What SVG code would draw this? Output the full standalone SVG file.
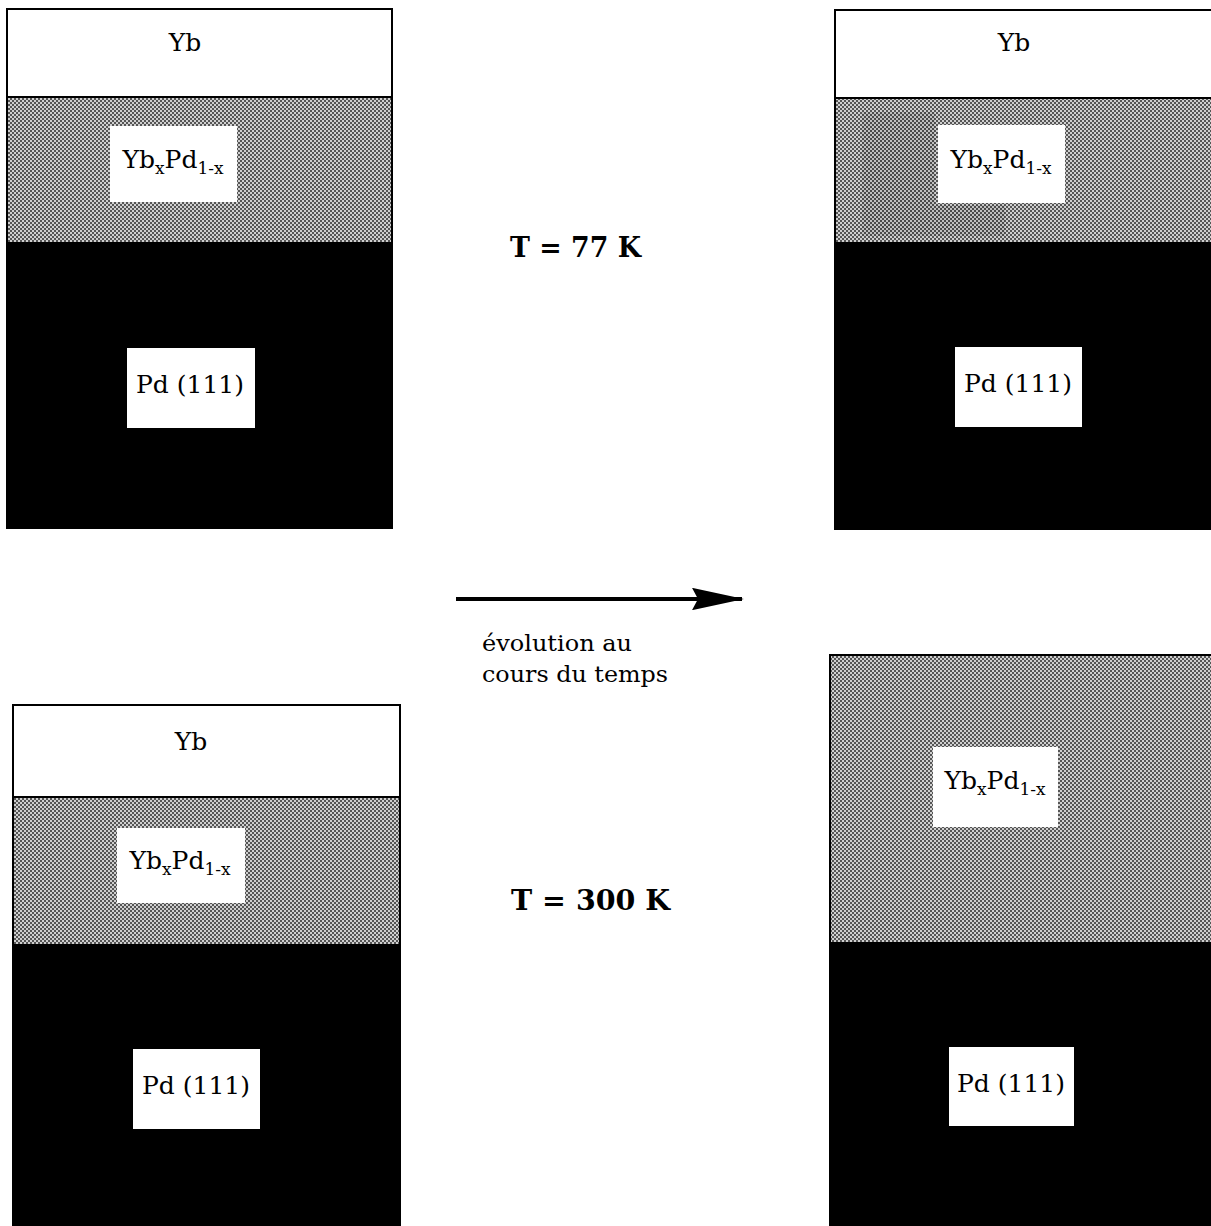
<svg xmlns="http://www.w3.org/2000/svg" width="1211" height="1226" viewBox="0 0 1211 1226">
<style>
.t{font-family:"DejaVu Serif","Liberation Serif",serif;font-size:25px;fill:#000;text-anchor:middle}
.s{font-size:17px}
.b{font-family:"DejaVu Serif","Liberation Serif",serif;font-size:27px;font-weight:bold;fill:#000}
.n{font-family:"DejaVu Serif","Liberation Serif",serif;font-size:22px;fill:#000}
.yb{fill:#fff;stroke:#000;stroke-width:2}
.gr{fill:url(#dither);stroke:#000;stroke-width:2}
.bk{fill:#000;stroke:#000;stroke-width:2}
.lb{fill:#fff}
</style>
<defs>
<pattern id="dither" width="4" height="4" patternUnits="userSpaceOnUse">
<rect width="4" height="4" fill="#cfcfcf"/>
<rect x="0" y="0" width="2" height="2" fill="#555"/>
<rect x="2" y="2" width="2" height="2" fill="#555"/>
</pattern>
<pattern id="dark" width="4" height="4" patternUnits="userSpaceOnUse">
<rect width="4" height="4" fill="#9a9a9a"/>
<rect x="0" y="0" width="2" height="2" fill="#303030"/>
<rect x="2" y="2" width="2" height="2" fill="#303030"/>
</pattern>
<marker id="ah" markerWidth="13" markerHeight="5.6" refX="12.5" refY="2.8" orient="auto" markerUnits="strokeWidth">
<path d="M0,0 L13,2.8 L0,5.6 L1.5,2.8 Z" fill="#000"/>
</marker>
</defs>
<rect width="1211" height="1226" fill="#fff"/>

<g id="panel-tl">
<rect class="bk" x="7" y="243" width="385" height="285"/>
<rect class="gr" x="7" y="97" width="385" height="146"/>
<rect class="yb" x="7" y="9" width="385" height="88"/>
<text class="t" x="185" y="51">Yb</text>
<rect class="lb" x="110" y="126" width="127" height="76"/>
<text class="t" x="173" y="168">Yb<tspan class="s" dy="6">x</tspan><tspan dy="-6">Pd</tspan><tspan class="s" dy="6">1-x</tspan></text>
<rect class="lb" x="127" y="348" width="128" height="80"/>
<text class="t" x="190" y="393">Pd (111)</text>
</g>

<g id="panel-tr">
<rect class="bk" x="835" y="243" width="378" height="286"/>
<rect class="gr" x="835" y="98" width="378" height="145"/>
<path d="M862,112 L935,112 L935,205 L1005,205 L1005,236 L862,236 Z" fill="url(#dark)" opacity="0.3"/>
<rect class="yb" x="835" y="10" width="378" height="88"/>
<text class="t" x="1014" y="51">Yb</text>
<rect class="lb" x="938" y="125" width="127" height="78"/>
<text class="t" x="1001" y="168">Yb<tspan class="s" dy="6">x</tspan><tspan dy="-6">Pd</tspan><tspan class="s" dy="6">1-x</tspan></text>
<rect class="lb" x="955" y="347" width="127" height="80"/>
<text class="t" x="1018" y="392">Pd (111)</text>
</g>

<g id="panel-bl">
<rect class="bk" x="13" y="945" width="387" height="283"/>
<rect class="gr" x="13" y="797" width="387" height="148"/>
<rect class="yb" x="13" y="705" width="387" height="92"/>
<text class="t" x="191" y="750">Yb</text>
<rect class="lb" x="117" y="828" width="128" height="75"/>
<text class="t" x="180" y="869">Yb<tspan class="s" dy="6">x</tspan><tspan dy="-6">Pd</tspan><tspan class="s" dy="6">1-x</tspan></text>
<rect class="lb" x="133" y="1049" width="127" height="80"/>
<text class="t" x="196" y="1094">Pd (111)</text>
</g>

<g id="panel-br">
<rect class="bk" x="830" y="943" width="383" height="285"/>
<rect class="gr" x="830" y="655" width="383" height="288"/>
<rect class="lb" x="933" y="747" width="125" height="80"/>
<text class="t" x="995" y="789">Yb<tspan class="s" dy="6">x</tspan><tspan dy="-6">Pd</tspan><tspan class="s" dy="6">1-x</tspan></text>
<rect class="lb" x="949" y="1047" width="125" height="79"/>
<text class="t" x="1011" y="1092">Pd (111)</text>
</g>

<g id="connectors">
<line x1="456" y1="599" x2="742" y2="599" stroke="#000" stroke-width="4" marker-end="url(#ah)"/>
</g>

<g id="labels">
<text class="b" x="510" y="257" textLength="131" lengthAdjust="spacingAndGlyphs">T = 77 K</text>
<text class="b" x="511" y="910" textLength="159" lengthAdjust="spacingAndGlyphs">T = 300 K</text>
<text class="n" x="482" y="651" textLength="150" lengthAdjust="spacingAndGlyphs">évolution au</text>
<text class="n" x="482" y="682" textLength="186" lengthAdjust="spacingAndGlyphs">cours du temps</text>
</g>
</svg>
